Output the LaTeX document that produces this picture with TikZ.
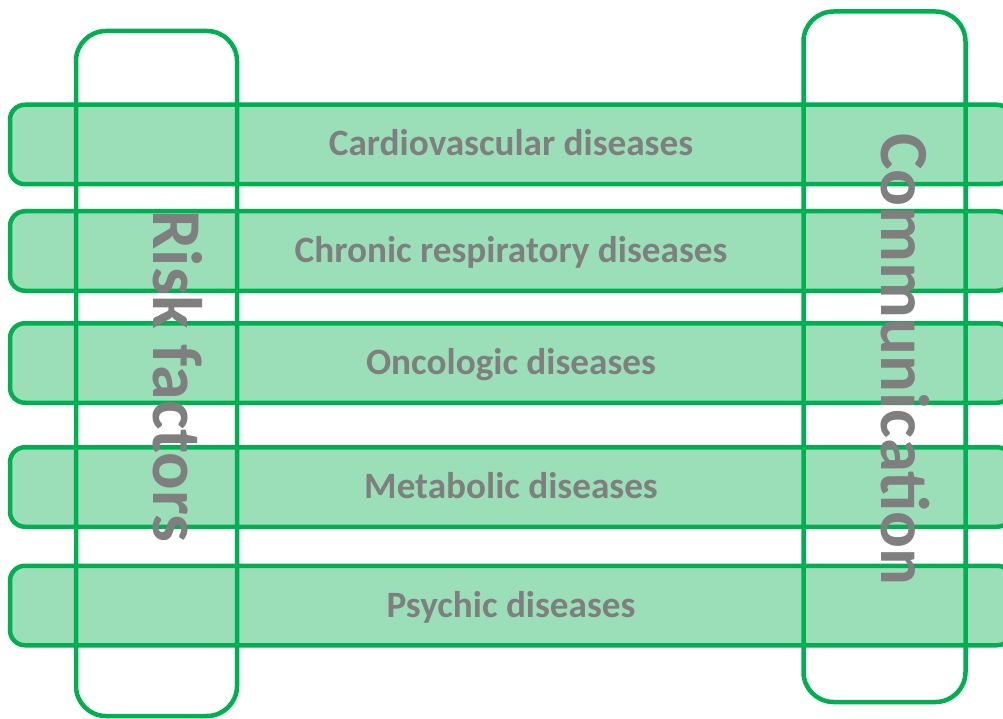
\documentclass[tikz,border=0pt]{standalone}
\usepackage{fontspec}
\setmainfont{Carlito}
\definecolor{lineGreen}{HTML}{00B050}
\definecolor{fillGreen}{HTML}{9BDFB9}
\definecolor{textGrey}{HTML}{7F7F7F}
\tikzset{
  bar/.style={draw=lineGreen, fill=fillGreen, line width=4.5pt, rounded corners=15pt,
    minimum width=1002pt, minimum height=79.5pt, inner sep=0pt,
    text height=30pt, text depth=7pt,
    text=textGrey, font=\bfseries\fontsize{37.2}{40}\selectfont},
  column/.style={draw=lineGreen, line width=4.5pt, rounded corners=30pt, inner sep=0pt},
  coltext/.style={text=textGrey, rotate=-90, anchor=base, inner sep=0pt}
}
\begin{document}
\begin{tikzpicture}[x=1pt,y=-1pt]
\useasboundingbox (0,0) rectangle (1003,719);
\clip (0,0) rectangle (1003,719);
\node[bar] (b1) at (511,144.5) {Cardiovascular diseases};
\node[bar] (b2) at (511,251) {Chronic respiratory diseases};
\node[bar] (b3) at (511,363) {Oncologic diseases};
\node[bar] (b4) at (511,487) {Metabolic diseases};
\node[bar] (b5) at (511,605.5) {Psychic diseases};
\node[column, minimum width=161pt, minimum height=685pt] (risk) at (156.5,373.5) {};
\node[column, minimum width=162pt, minimum height=690.5pt] (comm) at (884.5,356.75) {};
\node[coltext, font=\bfseries\fontsize{70}{74}\selectfont] (risklabel) at (153.5,376.5) {Risk factors};
\node[coltext, font=\bfseries\fontsize{68.8}{72}\selectfont] (commlabel) at (881,359.5) {Communication};
\end{tikzpicture}
\end{document}
